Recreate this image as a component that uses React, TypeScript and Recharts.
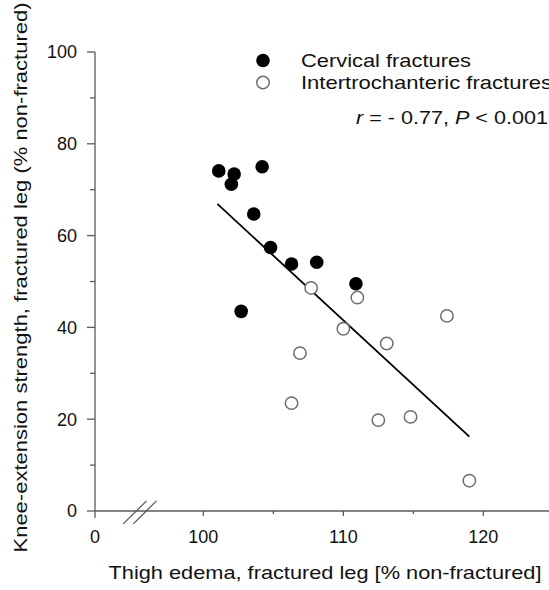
import React from 'react';
import {
  ScatterChart,
  Scatter,
  XAxis,
  YAxis,
  Legend,
  ReferenceLine,
  Label,
} from 'recharts';

// Thigh edema (% non-fractured) vs knee-extension strength (% non-fractured)
const cervicalX = [101.1, 102.2, 102.0, 104.2, 103.6, 104.8, 106.3, 108.1, 110.9, 102.7];
const cervicalY = [74.1, 73.4, 71.2, 75.0, 64.7, 57.4, 53.8, 54.2, 49.5, 43.5];

const interX = [107.7, 111.0, 117.4, 110.0, 113.1, 106.9, 106.3, 112.5, 114.8, 119.0];
const interY = [48.6, 46.5, 42.5, 39.7, 36.5, 34.4, 23.5, 19.8, 20.5, 6.6];

// regression line end points
const fitX = [101.0, 119.0];
const fitY = [66.9, 16.2];

// broken x axis: the "0" tick sits just left of the break
const X_ORIGIN = 92.26;
const xTickValues = [X_ORIGIN, 100, 105, 110, 115, 120];
const xTickLabels = ['0', '100', '', '110', '', '120'];
const yTickValues = [0, 10, 20, 30, 40, 50, 60, 70, 80, 90, 100];
const yTickLabels = ['0', '', '20', '', '40', '', '60', '', '80', '', '100'];

// the "//" break symbol, in data units
const breakX = [
  [94.28, 95.94],
  [95.0, 96.65],
];
const breakY = [-2.8, 2.2];

const cervical = cervicalX.map((x, i) => ({ x, y: cervicalY[i] }));
const inter = interX.map((x, i) => ({ x, y: interY[i] }));
const fit = fitX.map((x, i) => ({ x, y: fitY[i] }));

const AXIS = '#5a5a5a';
const INK = '#111';
const FONT = '"Liberation Sans", Arial, sans-serif';
// the source figure is stretched sideways, so text gets a fixed length
const TXT = 19;

const XTick = (props: any) => {
  const { x, y, payload } = props;
  const i = xTickValues.indexOf(payload.value);
  const label = xTickLabels[i] ?? '';
  const len = i === 0 ? 7 : label ? 5 : 3;
  return (
    <g>
      <line x1={x} x2={x} y1={y} y2={y + len} stroke={AXIS} strokeWidth={1.3} />
      {label && (
        <text x={x} y={y + 26} dy="0.35em" textAnchor="middle" fontSize={18} fill={INK}>
          {label}
        </text>
      )}
    </g>
  );
};

const YTick = (props: any) => {
  const { x, y, payload } = props;
  const i = yTickValues.indexOf(payload.value);
  const label = yTickLabels[i] ?? '';
  const len = label ? 8 : 5;
  return (
    <g>
      <line x1={x - len} x2={x} y1={y} y2={y} stroke={AXIS} strokeWidth={1.3} />
      {label && (
        <text x={x - 18} y={y} dy="0.35em" textAnchor="end" fontSize={18} fill={INK}>
          {label}
        </text>
      )}
    </g>
  );
};

const FilledDot = (p: any) => <circle cx={p.cx} cy={p.cy} r={6.8} fill="#000" />;
const OpenDot = (p: any) => (
  <circle cx={p.cx} cy={p.cy} r={6.2} fill="#fff" stroke="#6e6e6e" strokeWidth={1.5} />
);

const LegendBox = () => (
  <svg width={299} height={95} style={{ display: 'block', fontFamily: FONT }}>
    <circle cx={13} cy={20.5} r={6.8} fill="#000" />
    <text x={51} y={27.3} fontSize={TXT} fill={INK} textLength={170} lengthAdjust="spacingAndGlyphs">
      Cervical fractures
    </text>
    <circle cx={13} cy={42.5} r={6.2} fill="#fff" stroke="#6e6e6e" strokeWidth={1.5} />
    <text x={51} y={49.3} fontSize={TXT} fill={INK} textLength={251} lengthAdjust="spacingAndGlyphs">
      Intertrochanteric fractures
    </text>
    <text x={106} y={84} fontSize={TXT} fill={INK} textLength={192} lengthAdjust="spacingAndGlyphs">
      <tspan fontStyle="italic">r</tspan> = - 0.77, <tspan fontStyle="italic">P</tspan> &lt; 0.001
    </text>
  </svg>
);

export default function App() {
  return (
    <div style={{ position: 'absolute', left: 0, top: 0, fontFamily: FONT, background: '#fff' }}>
      <ScatterChart width={549} height={590} margin={{ top: 52, right: 0, bottom: 0, left: 0 }}>
        <XAxis
          type="number"
          dataKey="x"
          domain={[X_ORIGIN, 124.69]}
          ticks={xTickValues}
          allowDataOverflow
          height={79}
          tickSize={0}
          tickMargin={0}
          tickLine={false}
          axisLine={{ stroke: AXIS, strokeWidth: 1.3 }}
          tick={<XTick />}
          interval={0}
        >
          <Label
            content={(p: any) => {
              const vb = p.viewBox;
              return (
                <text
                  x={vb.x + vb.width / 2 + 3}
                  y={vb.y + 68}
                  textAnchor="middle"
                  fontSize={TXT}
                  fill={INK}
                  textLength={433}
                  lengthAdjust="spacingAndGlyphs"
                >
                  Thigh edema, fractured leg [% non-fractured]
                </text>
              );
            }}
          />
        </XAxis>
        <YAxis
          type="number"
          dataKey="y"
          domain={[0, 100]}
          ticks={yTickValues}
          width={95}
          tickSize={0}
          tickMargin={0}
          tickLine={false}
          axisLine={{ stroke: AXIS, strokeWidth: 1.3 }}
          tick={<YTick />}
          interval={0}
        >
          <Label
            content={(p: any) => {
              const vb = p.viewBox;
              const cx = vb.x + 27;
              const cy = vb.y + vb.height / 2 - 4;
              return (
                <text
                  x={cx}
                  y={cy}
                  transform={`rotate(-90, ${cx}, ${cy})`}
                  textAnchor="middle"
                  fontSize={TXT}
                  fill={INK}
                  textLength={550}
                  lengthAdjust="spacingAndGlyphs"
                >
                  Knee-extension strength, fractured leg (% non-fractured)
                </text>
              );
            }}
          />
        </YAxis>
        {breakX.map((bx, i) => (
          <ReferenceLine
            key={i}
            segment={[
              { x: bx[0], y: breakY[0] },
              { x: bx[1], y: breakY[1] },
            ]}
            stroke={AXIS}
            strokeWidth={1.3}
            ifOverflow="visible"
          />
        ))}
        <Scatter
          name="Fit"
          data={fit}
          line={{ stroke: '#000', strokeWidth: 1.8 }}
          shape={() => <g />}
          legendType="none"
          isAnimationActive={false}
        />
        <Scatter
          name="Cervical fractures"
          data={cervical}
          shape={<FilledDot />}
          isAnimationActive={false}
        />
        <Scatter
          name="Intertrochanteric fractures"
          data={inter}
          shape={<OpenDot />}
          isAnimationActive={false}
        />
        <Legend
          layout="horizontal"
          verticalAlign="middle"
          align="center"
          content={() => <LegendBox />}
          wrapperStyle={{ position: 'absolute', left: 250, top: 40, width: 299, height: 95 }}
        />
      </ScatterChart>
    </div>
  );
}
